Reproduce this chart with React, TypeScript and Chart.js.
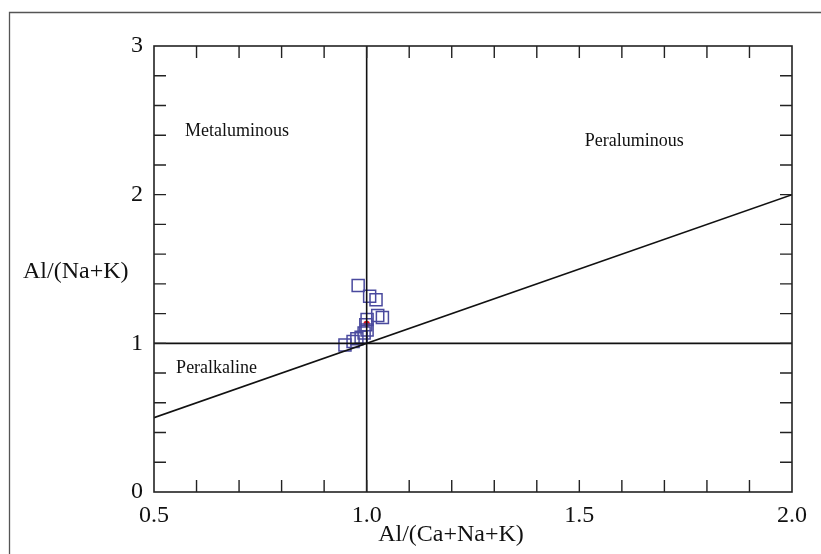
import React, { useEffect, useRef } from "react";
import { Chart, registerables } from "chart.js";

Chart.register(...registerables);

// Sample data: Al/(Ca+Na+K) vs Al/(Na+K)
const sampleX = [0.98, 1.007, 1.022, 1.026, 1.037, 1.001, 0.998, 1.001, 0.994, 0.987, 0.977, 0.968, 0.949];
const sampleY = [1.389, 1.316, 1.293, 1.187, 1.174, 1.16, 1.125, 1.09, 1.069, 1.041, 1.031, 1.012, 0.989];
const highlightX = [1.0];
const highlightY = [1.131];

// Boundary lines
const hLineX = [0.5, 2.0];
const hLineY = [1, 1];
const vLineX = [1, 1];
const vLineY = [0, 3];
const diagX = [0.5, 2.0];
const diagY = [0.5, 2.0];

// Axis ticks
const xTickLabels = ["0.5", "1.0", "1.5", "2.0"];
const yTickLabels = ["0", "1", "2", "3"];

// Region labels
const regionNames = ["Metaluminous", "Peraluminous", "Peralkaline"];
const regionX = [0.573, 1.513, 0.552];
const regionY = [2.428, 2.361, 0.834];

const xTitle = "Al/(Ca+Na+K)";
const yTitle = "Al/(Na+K)";

const SERIF = "'Liberation Serif', 'Times New Roman', serif";

const zip = (xs: number[], ys: number[]) => xs.map((x, i) => ({ x, y: ys[i] }));

const decorPlugin = {
  id: "decor",
  beforeDraw(chart: any) {
    const ctx = chart.ctx;
    ctx.save();
    ctx.strokeStyle = "#555";
    ctx.lineWidth = 1.3;
    ctx.beginPath();
    ctx.moveTo(9.5, chart.height);
    ctx.lineTo(9.5, 12.5);
    ctx.lineTo(chart.width, 12.5);
    ctx.stroke();
    ctx.restore();
  },
  afterDatasetsDraw(chart: any) {
    const ctx = chart.ctx;
    const a = chart.chartArea;
    const xs = chart.scales.x;
    const ys = chart.scales.y;
    ctx.save();
    ctx.strokeStyle = "#222";
    ctx.lineWidth = 1.6;
    ctx.strokeRect(a.left, a.top, a.right - a.left, a.bottom - a.top);
    const tl = 12;
    ctx.lineWidth = 1.4;
    ctx.beginPath();
    for (let i = 1; i < 15; i++) {
      const v = 0.5 + i * 0.1;
      const px = xs.getPixelForValue(v);
      ctx.moveTo(px, a.bottom);
      ctx.lineTo(px, a.bottom - tl);
      ctx.moveTo(px, a.top);
      ctx.lineTo(px, a.top + tl);
    }
    for (let i = 1; i < 15; i++) {
      const v = i * 0.2;
      const py = ys.getPixelForValue(v);
      ctx.moveTo(a.left, py);
      ctx.lineTo(a.left + tl, py);
      ctx.moveTo(a.right, py);
      ctx.lineTo(a.right - tl, py);
    }
    ctx.stroke();

    ctx.fillStyle = "#111";
    ctx.font = `18px ${SERIF}`;
    ctx.textBaseline = "middle";
    ctx.textAlign = "left";
    regionNames.forEach((n, i) => {
      ctx.fillText(n, xs.getPixelForValue(regionX[i]), ys.getPixelForValue(regionY[i]));
    });

    ctx.font = `24px ${SERIF}`;
    ctx.textAlign = "left";
    ctx.fillText(yTitle, 23, 272);
    ctx.textAlign = "center";
    ctx.fillText(xTitle, 451, 535);
    ctx.restore();
  },
};

export default function App() {
  const ref = useRef<HTMLCanvasElement>(null);
  useEffect(() => {
    if (!ref.current) return;
    const lineDs = (xs: number[], ys: number[]) => ({
      type: "line" as const,
      data: zip(xs, ys),
      borderColor: "#111",
      borderWidth: 1.6,
      pointRadius: 0,
      showLine: true,
      fill: false,
    });
    const chart = new Chart(ref.current, {
      type: "scatter",
      data: {
        datasets: [
          lineDs(hLineX, hLineY),
          lineDs(vLineX, vLineY),
          lineDs(diagX, diagY),
          {
            data: zip(sampleX, sampleY),
            pointStyle: "rect",
            pointRadius: 8.5,
            borderColor: "#4a4a9e",
            borderWidth: 1.5,
            backgroundColor: "rgba(0,0,0,0)",
          } as any,
          {
            data: zip(highlightX, highlightY),
            pointStyle: "circle",
            pointRadius: 3.2,
            borderWidth: 0,
            backgroundColor: "#e3141b",
            borderColor: "#e3141b",
          } as any,
        ],
      },
      options: {
        animation: false,
        responsive: false,
        events: [],
        layout: { padding: { left: 0, top: 46, right: 29, bottom: 0 } },
        plugins: { legend: { display: false }, tooltip: { enabled: false } },
        scales: {
          x: {
            type: "linear",
            min: 0.5,
            max: 2.0,
            afterBuildTicks: (s: any) => {
              s.ticks = xTickLabels.map((t) => ({ value: parseFloat(t) }));
            },
            ticks: {
              callback: (v: any) => Number(v).toFixed(1),
              font: { family: SERIF, size: 24 },
              color: "#111",
              padding: 1,
              maxRotation: 0,
              autoSkip: false,
            },
            grid: { display: false },
            border: { display: false },
            afterFit: (s: any) => {
              s.height = 62;
            },
          },
          y: {
            type: "linear",
            min: 0,
            max: 3,
            afterBuildTicks: (s: any) => {
              s.ticks = yTickLabels.map((t) => ({ value: parseFloat(t) }));
            },
            ticks: {
              callback: (v: any) => String(v),
              font: { family: SERIF, size: 24 },
              color: "#111",
              padding: 3,
              autoSkip: false,
            },
            grid: { display: false },
            border: { display: false },
            afterFit: (s: any) => {
              s.width = 154;
            },
          },
        },
      } as any,
      plugins: [decorPlugin],
    });
    return () => chart.destroy();
  }, []);
  return (
    <div style={{ position: "fixed", left: 0, top: 0, width: 821, height: 554, background: "#fff" }}>
      <canvas ref={ref} width={821} height={554} style={{ display: "block" }} />
    </div>
  );
}
